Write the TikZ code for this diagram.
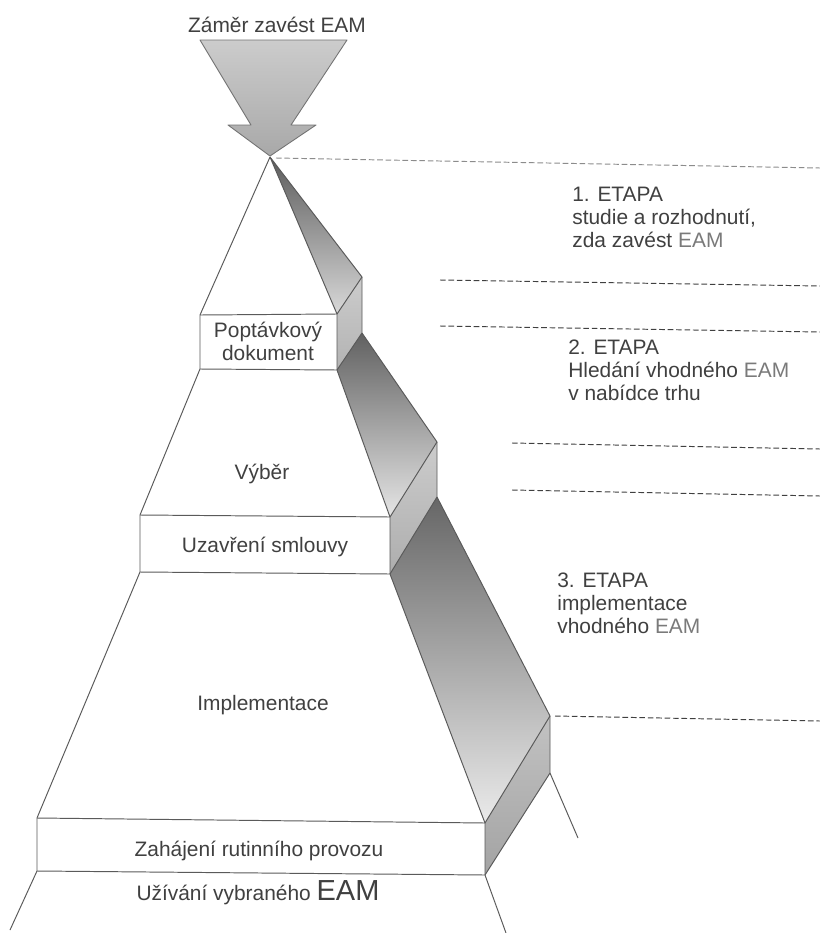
\documentclass[tikz,border=0pt]{standalone}
\usepackage{fontspec}
\setmainfont{Liberation Sans}
\definecolor{txt}{HTML}{404040}
\definecolor{eam}{HTML}{7A7A7A}
\definecolor{edgec}{HTML}{5A5A5A}
\begin{document}
\begin{tikzpicture}[x=0.02cm,y=-0.02cm,line join=round,
  edge/.style={draw=edgec,line width=0.55pt},
  lbl/.style={font=\fontsize{11.9}{13.1}\selectfont,text=txt,inner sep=0pt,align=center},
  rlbl/.style={lbl,align=left,anchor=north west},
  dashln/.style={draw=black!75,line width=0.55pt,dash pattern=on 3.2pt off 1.6pt}]
\useasboundingbox[fill=white] (0,0) rectangle (820,933);
% key points
\coordinate (A) at (270,157);
\coordinate (P1L) at (200,315); \coordinate (P1R) at (337,314);
\coordinate (S1) at (362,277);  \coordinate (S1b) at (362,333);
\coordinate (P1bL) at (200,369); \coordinate (P1bR) at (337,370);
\coordinate (P2L) at (140,515); \coordinate (P2R) at (390,517);
\coordinate (S2) at (437,442);  \coordinate (S2b) at (437,497);
\coordinate (P2bL) at (140,572); \coordinate (P2bR) at (390,574);
\coordinate (P3L) at (37,818); \coordinate (P3R) at (485,823);
\coordinate (S3) at (550,716);  \coordinate (S3b) at (550,773);
\coordinate (P3bL) at (37,871); \coordinate (P3bR) at (485,875);
\coordinate (E1) at (10,930); \coordinate (E2) at (506,933); \coordinate (E3) at (578,838);
% arrow
\shade[top color=black!20,bottom color=black!34,draw=black!55,line width=0.5pt]
  (200,40) -- (347,40) -- (291,125) -- (316,125) -- (270,156) -- (228,125) -- (251,125) -- cycle;
% sloped faces
\shade[top color=black!64,bottom color=black!15] (A) -- (S1) -- (P1R) -- cycle;
\shade[top color=black!20,bottom color=black!30] (P1R) -- (S1) -- (S1b) -- (P1bR) -- cycle;
\shade[top color=black!62,bottom color=black!10] (P1bR) -- (S1b) -- (S2) -- (P2R) -- cycle;
\shade[top color=black!20,bottom color=black!32] (P2R) -- (S2) -- (S2b) -- (P2bR) -- cycle;
\shade[top color=black!60,bottom color=black!8] (P2bR) -- (S2b) -- (S3) -- (P3R) -- cycle;
\shade[top color=black!24,bottom color=black!36] (P3R) -- (S3) -- (S3b) -- (P3bR) -- cycle;
% edges
\draw[edge] (A) -- (P1L) -- (P1bL) -- (P2L) -- (P2bL) -- (P3L) -- (P3bL) -- (E1);
\draw[edge] (A) -- (P1R) -- (P1bR) -- (P2R) -- (P2bR) -- (P3R) -- (P3bR) -- (E2);
\draw[edge] (A) -- (S1) -- (S1b) -- (S2) -- (S2b) -- (S3) -- (S3b) -- (E3);
\draw[edge] (P1L) -- (P1R) -- (S1);
\draw[edge] (P1bL) -- (P1bR) -- (S1b);
\draw[edge] (P2L) -- (P2R) -- (S2);
\draw[edge] (P2bL) -- (P2bR) -- (S2b);
\draw[edge] (P3L) -- (P3R) -- (S3);
\draw[edge] (P3bL) -- (P3bR) -- (S3b);
% dashed lines
\coordinate (D1a) at (276,158); \coordinate (D1b) at (820,168);
\coordinate (D2a) at (440,280); \coordinate (D2b) at (820,286);
\coordinate (D3a) at (440,326); \coordinate (D3b) at (820,332);
\coordinate (D4a) at (512,443); \coordinate (D4b) at (820,449);
\coordinate (D5a) at (512,490); \coordinate (D5b) at (820,496);
\coordinate (D6a) at (555,716); \coordinate (D6b) at (820,721);
\draw[dashln,draw=black!45] (D1a) -- (D1b);
\foreach \i in {2,...,6} {\draw[dashln] (D\i a) -- (D\i b);}
% labels
\node[lbl,anchor=base] (title) at (277,32) {Záměr zavést EAM};
\node[lbl] (pop) at (268,341) {Poptávkový\\dokument};
\node[lbl,anchor=base] (vyb) at (262,479) {Výběr};
\node[lbl,anchor=base] (uza) at (265,552) {Uzavření smlouvy};
\node[lbl,anchor=base] (imp) at (263,710) {Implementace};
\node[lbl,anchor=base] (zah) at (259,856) {Zahájení rutinního provozu};
\node[lbl,anchor=base] (uzi) at (258,900) {Užívání vybraného {\fontsize{16.5}{18}\selectfont EAM}};
\node[rlbl] (et1) at (572,186.5) {1. ETAPA\\studie a rozhodnutí,\\zda zavést \textcolor{eam}{EAM}};
\node[rlbl] (et2) at (568,339.5) {2. ETAPA\\Hledání vhodného \textcolor{eam}{EAM}\\v nabídce trhu};
\node[rlbl] (et3) at (557,572.5) {3. ETAPA\\implementace\\vhodného \textcolor{eam}{EAM}};
\end{tikzpicture}
\end{document}
